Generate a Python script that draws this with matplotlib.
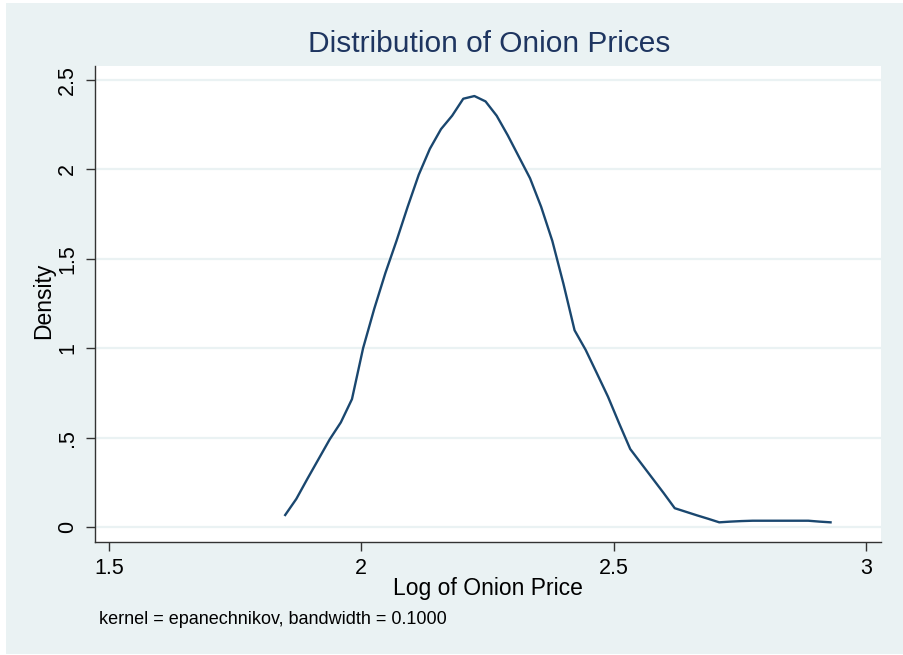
import matplotlib
matplotlib.use("Agg")
import matplotlib.pyplot as plt
from matplotlib import font_manager
from matplotlib.patches import Rectangle
import numpy as np

# Data (kernel density estimate, 50 grid points)
x_start = 1.849
x_end = 2.930
density = [0.067, 0.157, 0.27, 0.38, 0.49, 0.585, 0.715, 1.00, 1.22, 1.42,
           1.60, 1.79, 1.97, 2.115, 2.225, 2.30, 2.395, 2.41, 2.38, 2.30,
           2.19, 2.07, 1.95, 1.79, 1.60, 1.36, 1.10, 0.99, 0.86, 0.729,
           0.58, 0.436, 0.354, 0.272, 0.19, 0.105, 0.085, 0.065, 0.046, 0.026,
           0.030, 0.033, 0.035, 0.035, 0.035, 0.035, 0.035, 0.035, 0.030, 0.026]
x_grid = np.linspace(x_start, x_end, len(density))

xticks = [1.5, 2, 2.5, 3]
xtick_labels = ["1.5", "2", "2.5", "3"]
yticks = [0, 0.5, 1, 1.5, 2, 2.5]
ytick_labels = ["0", ".5", "1", "1.5", "2", "2.5"]

title = "Distribution of Onion Prices"
xlabel = "Log of Onion Price"
ylabel = "Density"
note = "kernel = epanechnikov, bandwidth = 0.1000"

plt.rcParams['font.family'] = ['Liberation Sans', 'DejaVu Sans']

# condensed title font if available
try:
    font_manager.findfont(font_manager.FontProperties(family='Liberation Sans Narrow'),
                          fallback_to_default=False)
    title_family = ['Liberation Sans Narrow', 'Liberation Sans']
    title_size = 24
except Exception:
    title_family = ['Liberation Sans', 'DejaVu Sans']
    title_size = 21.5

W, H = 904, 655
bg = "#EAF2F3"
navy = "#1A476F"
dark = "#333333"

fig = plt.figure(figsize=(W/100, H/100), dpi=100, facecolor="white")
fig.patches.append(Rectangle((6/W, 1 - 654/H), (W+10)/W, (654-3)/H,
                             transform=fig.transFigure, facecolor=bg,
                             edgecolor="none", zorder=-10))

ax = fig.add_axes([95/W, (H-542)/H, 786/W, 476/H])
ax.set_zorder(5)
ax.set_facecolor("white")

for yt in yticks:
    ax.axhline(yt, color=bg, lw=1.6, zorder=0)

ax.plot(x_grid, density, color=navy, lw=1.7, zorder=3)

ax.set_xlim(1.472, 3.030)
ax.set_ylim(-0.084, 2.578)

ax.set_xticks(xticks)
ax.set_xticklabels(xtick_labels, fontsize=15.5)
ax.set_yticks(yticks)
ax.set_yticklabels(ytick_labels, fontsize=15.5, rotation=90, va="center")

ax.tick_params(axis="both", direction="out", length=6.5, width=1, color=dark)
ax.tick_params(axis="x", pad=5)
ax.tick_params(axis="y", pad=5.5)

for s in ["top", "right"]:
    ax.spines[s].set_visible(False)
for s in ["left", "bottom"]:
    ax.spines[s].set_color(dark)
    ax.spines[s].set_linewidth(1)

ax.set_xlabel(xlabel, fontsize=16.5, va="center")
ax.xaxis.set_label_coords(0.5, -47/476)
ax.set_ylabel(ylabel, fontsize=16.5, va="center")
ax.yaxis.set_label_coords(-51/786, (542-301)/476)

fig.text(489/W, 1 - 44.5/H, title, fontsize=title_size, color="#1E3560",
         ha="center", va="center", family=title_family, zorder=6)
fig.text(99/W, 1 - 620/H, note, fontsize=13, color="black", ha="left",
         va="center", zorder=6)

fig.savefig("out.png", dpi=100, facecolor="white")
